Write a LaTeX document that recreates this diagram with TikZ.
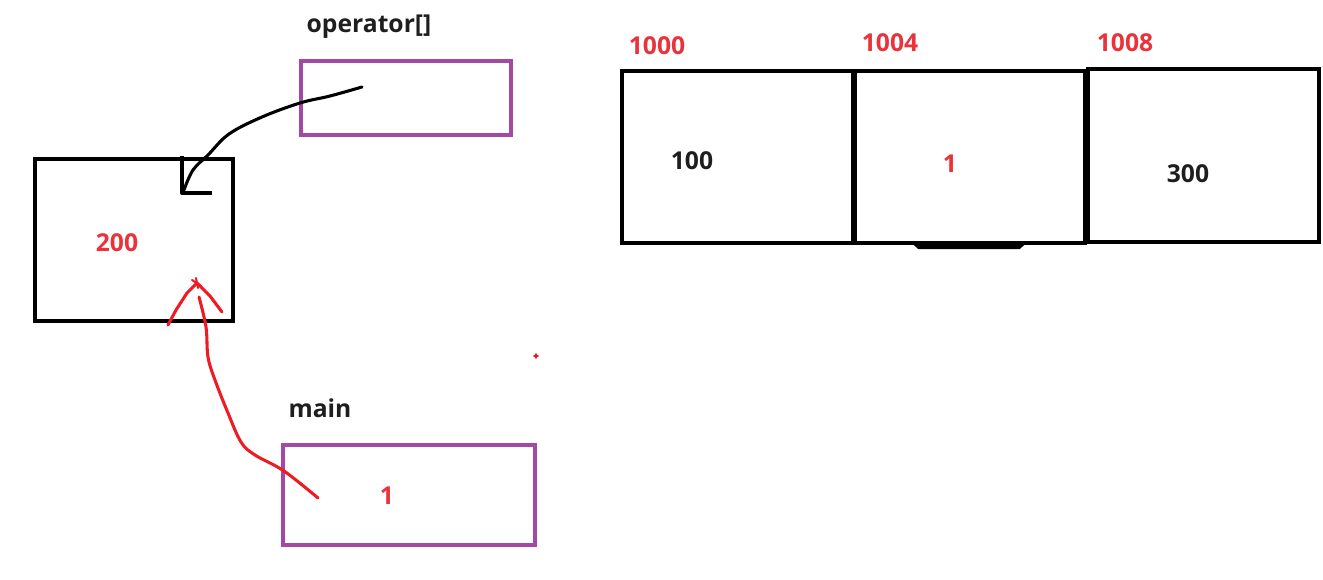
\documentclass[tikz,border=0pt]{standalone}
\usepackage{fontspec}
\setmainfont{Open Sans}
\definecolor{ppurple}{RGB}{163,73,164}
\definecolor{pred}{RGB}{237,28,36}
\definecolor{tred}{RGB}{235,50,58}
\definecolor{tblack}{RGB}{30,30,30}
\begin{document}
\begin{tikzpicture}[x=0.75pt,y=-0.75pt,
  blackbox/.style={draw=black,line width=3pt,minimum width=#1},
  purplebox/.style={draw=ppurple,line width=3pt},
  lbl/.style={font=\fontsize{18.5}{20}\selectfont\bfseries,text=tblack,inner sep=0pt},
  rlbl/.style={lbl,text=tred},
  pen/.style={line width=2.3pt,line cap=round,line join=round}]
\useasboundingbox (0,0) rectangle (1323,579);
% stack boxes
\node[blackbox=148.5pt,minimum height=121.5pt] (p) at (134,240) {};
\node[purplebox,minimum width=157.5pt,minimum height=55.5pt] (op) at (406,98) {};
\node[purplebox,minimum width=189pt,minimum height=75pt] (mn) at (409,495) {};
% array boxes
\node[blackbox=173.25pt,minimum height=129pt] (a0) at (737.5,157) {};
\node[blackbox=172.5pt,minimum height=129pt] (a1) at (970,157) {};
\node[blackbox=173.25pt,minimum height=129.75pt] (a2) at (1203.5,155.5) {};
\draw[line width=3pt] (915,243.5) -- (919,247) -- (1019,247) -- (1023,243.5);
% labels
\node[lbl] (oplbl) at (369,27) {operator[]};
\node[lbl] (mnlbl) at (320,408) {main};
\node[rlbl] (pv) at (117,243) {200};
\node[rlbl] (mv) at (387,496) {1};
\node[rlbl] (l0) at (657,46) {1000};
\node[rlbl] (l1) at (890,43) {1004};
\node[rlbl] (l2) at (1125,43) {1008};
\node[lbl] (v0) at (692,161) {100};
\node[rlbl] (v1) at (950,164) {1};
\node[lbl] (v2) at (1188,174) {300};
% black pointer arrow (operator[] -> p)
\coordinate (bs) at (362,87);
\coordinate (be) at (184,190);
\draw[pen,black] plot[smooth,tension=0.6] coordinates {(bs) (330,96) (300,103) (262,117) (229,134) (208,155) (193,170) (be)};
\draw[pen,black,line width=3pt,line cap=butt] (182,156) -- (182,193) -- (212,193);
% red pointer arrow (main -> p)
\coordinate (rs) at (318,498);
\coordinate (re) at (199,297);
\draw[pen,pred] plot[smooth,tension=0.6] coordinates {(rs) (284,471) (255,455) (241,442) (228,413) (215,380) (208,357) (206,327) (re)};
\draw[pen,pred] (168,325) -- (176,310) -- (187,293) -- (197,283) -- (210,296) -- (222,312);
\draw[pen,pred,line width=1.5pt] (192,280) -- (201,286) (196,278) -- (198,288);
\draw[pen,pred,line width=1.2pt] (534,356) -- (538,356) (536,354) -- (536,358);
\end{tikzpicture}
\end{document}
